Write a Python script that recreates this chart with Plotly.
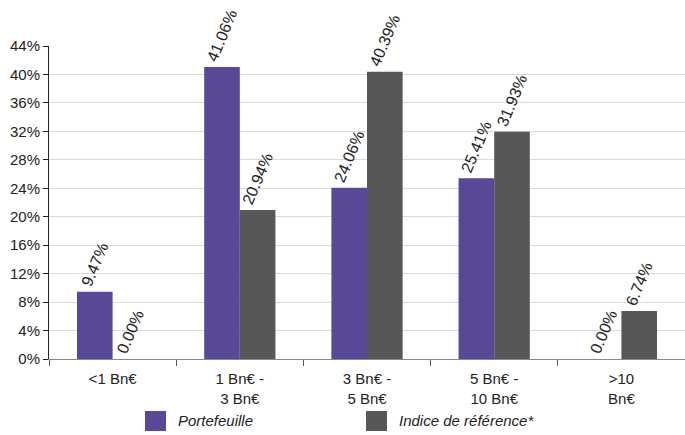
import plotly.graph_objects as go

categories = ["<1 Bn€", "1 Bn€ -<br>3 Bn€", "3 Bn€ -<br>5 Bn€", "5 Bn€ -<br>10 Bn€", ">10<br>Bn€"]
series_names = ["Portefeuille", "Indice de référence*"]
portefeuille = [9.47, 41.06, 24.06, 25.41, 0.00]
indice = [0.00, 20.94, 40.39, 31.93, 6.74]

PURPLE = "#594797"
GREY = "#575757"
FONT = "Liberation Sans, Arial, sans-serif"
W, H = 685, 435

fig = go.Figure()
for name, vals, color in zip(series_names, [portefeuille, indice], [PURPLE, GREY]):
    fig.add_trace(go.Bar(
        x=categories,
        y=[v / 100 for v in vals],
        name=name,
        marker=dict(color=color, line=dict(width=0)),
        text=[f"{v:.2f}%" for v in vals],
        textposition="outside",
        textangle=-67,
        constraintext="none",
        cliponaxis=False,
        showlegend=False,
        textfont=dict(family=FONT, size=16, color="#222222"),
    ))

# Legend drawn as swatches + italic captions below the axis
legend_x = [145, 366]
for name, color, x0 in zip(series_names, [PURPLE, GREY], legend_x):
    fig.add_shape(type="rect", xref="paper", yref="paper",
                  x0=(x0 - 49) / 636, x1=(x0 + 21 - 49) / 636,
                  y0=-(431 - 359) / 313, y1=-(411 - 359) / 313,
                  fillcolor=color, line=dict(width=0))
    fig.add_annotation(xref="paper", yref="paper",
                       x=(x0 + 31 - 49) / 636, y=-(421 - 359) / 313,
                       xanchor="left", yanchor="middle", showarrow=False,
                       text=f"<i>{name}</i>",
                       font=dict(family=FONT, size=15, color="#222222"))

fig.update_layout(
    width=W, height=H,
    margin=dict(l=49, r=0, t=46, b=76, autoexpand=False),
    paper_bgcolor="white",
    plot_bgcolor="white",
    barmode="group",
    bargap=0.44,
    bargroupgap=0,
    font=dict(family=FONT, size=14, color="#222222"),
    showlegend=False,
)

fig.update_yaxes(
    range=[0, 0.44], dtick=0.04, tickformat=".0%",
    showgrid=True, gridcolor="#d9d9d9", gridwidth=1,
    showline=True, linecolor="#222222", linewidth=1,
    ticks="outside", ticklen=5, tickcolor="#222222",
    zeroline=False,
    tickfont=dict(size=15),
)
fig.update_xaxes(
    showline=True, linecolor="#888888", linewidth=1,
    ticks="outside", ticklen=6, tickcolor="#555555",
    tickson="boundaries",
    ticklabelstandoff=6,
    tickfont=dict(size=15),
)

fig.write_html("out.html")
